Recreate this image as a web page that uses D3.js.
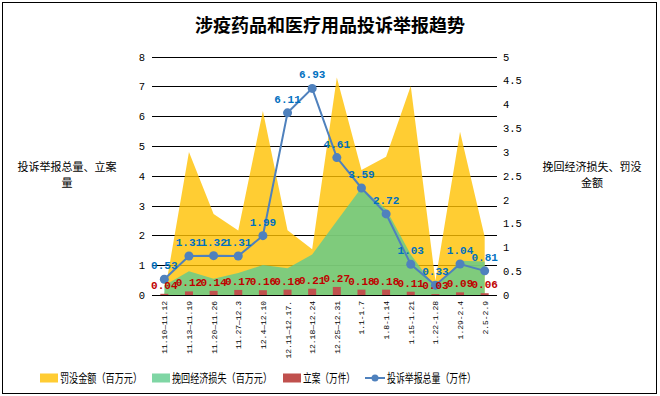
<!DOCTYPE html>
<html>
<head>
<meta charset="utf-8">
<script src="https://cdn.jsdelivr.net/npm/d3@7/dist/d3.min.js"></script>
<style>
  body { margin: 0; background: #fff; }
  svg { display: block; }
  .cjk { font-family: "Noto Sans CJK SC", sans-serif; }
  .num { font-family: "Liberation Mono", "DejaVu Sans Mono", monospace; }
</style>
</head>
<body>
<div id="chart"></div>
<script>
// 数据
const categories = ["11.10—11.12", "11.13—11.19", "11.20—11.26", "11.27—12.3", "12.4—12.10",
                    "12.11—12.17.", "12.18—12.24", "12.25—12.31", "1.1-1.7", "1.8-1.14",
                    "1.15-1.21", "1.22-1.28", "1.29-2.4", "2.5-2.9"];
const complaints = [0.53, 1.31, 1.32, 1.31, 1.99, 6.11, 6.93, 4.61, 3.59, 2.72, 1.03, 0.33, 1.04, 0.81]; // 投诉举报总量（万件）
const cases = [0.04, 0.12, 0.14, 0.17, 0.16, 0.18, 0.21, 0.27, 0.18, 0.18, 0.11, 0.03, 0.09, 0.06];       // 立案（万件）
const fines = [0, 3.0, 1.7, 1.35, 3.86, 1.36, 0.96, 4.56, 2.62, 2.9, 4.38, 0.3, 3.42, 1.22];             // 罚没金额（百万元）
const recovered = [0.2, 0.5, 0.34, 0.46, 0.63, 0.56, 0.85, 1.55, 2.25, 1.8, 0.85, 0.15, 0.72, 0.7];      // 挽回经济损失（百万元）
const leftTicks = [0, 1, 2, 3, 4, 5, 6, 7, 8];
const rightTicks = [0, 0.5, 1, 1.5, 2, 2.5, 3, 3.5, 4, 4.5, 5];

const W = 660, H = 396;
const plot = { left: 152, right: 497, top: 56.5, bottom: 295 };

const svg = d3.select("#chart").append("svg")
  .attr("width", W)
  .attr("height", H);

// 外框
svg.append("rect")
  .attr("x", 2.5).attr("y", 2.5)
  .attr("width", 654).attr("height", 391)
  .attr("fill", "#fff")
  .attr("stroke", "#000");

const x = d3.scaleBand().domain(categories).range([plot.left, plot.right]);
const cx = d => x(d) + x.bandwidth() / 2;
const yL = d3.scaleLinear().domain([0, 8]).range([plot.bottom, plot.top]);
const yR = d3.scaleLinear().domain([0, 5]).range([plot.bottom, plot.top]);

// 标题
svg.append("text")
  .attr("class", "cjk")
  .attr("x", 330).attr("y", 32)
  .attr("text-anchor", "middle")
  .style("font-size", "18px")
  .style("font-weight", "bold")
  .text("涉疫药品和医疗用品投诉举报趋势");

// 网格线
svg.append("g").selectAll("line")
  .data(leftTicks.filter(t => t > 0))
  .enter().append("line")
  .attr("x1", plot.left).attr("x2", plot.right)
  .attr("y1", d => Math.round(yL(d)) + 0.5)
  .attr("y2", d => Math.round(yL(d)) + 0.5)
  .attr("stroke", "#000");

// 面积：罚没金额、挽回经济损失
const area = d3.area()
  .x((d, i) => cx(categories[i]))
  .y0(yR(0))
  .y1(d => yR(d));

svg.append("path")
  .datum(fines)
  .attr("d", area)
  .attr("fill", "#FFC000")
  .attr("fill-opacity", 0.8);

svg.append("path")
  .datum(recovered)
  .attr("d", area)
  .attr("fill", "#5FCB8E")
  .attr("fill-opacity", 0.8);

// 立案柱
svg.append("g").selectAll("rect")
  .data(cases)
  .enter().append("rect")
  .attr("x", (d, i) => cx(categories[i]) - 4)
  .attr("y", d => yL(d))
  .attr("width", 8)
  .attr("height", d => yL(0) - yL(d))
  .attr("fill", "#C0504D");

// x轴线
svg.append("line")
  .attr("x1", plot.left).attr("x2", plot.right)
  .attr("y1", Math.round(plot.bottom) + 0.5).attr("y2", Math.round(plot.bottom) + 0.5)
  .attr("stroke", "#000");

// 投诉举报总量折线
const line = d3.line()
  .x((d, i) => cx(categories[i]))
  .y(d => yL(d));

svg.append("path")
  .datum(complaints)
  .attr("d", line)
  .attr("fill", "none")
  .attr("stroke", "#4F81BD")
  .attr("stroke-width", 2);

svg.append("g").selectAll("circle")
  .data(complaints)
  .enter().append("circle")
  .attr("cx", (d, i) => cx(categories[i]))
  .attr("cy", d => yL(d))
  .attr("r", 4.5)
  .attr("fill", "#4F81BD");

// 数据标签
svg.append("g").selectAll("text")
  .data(cases)
  .enter().append("text")
  .attr("class", "num")
  .attr("x", (d, i) => cx(categories[i]))
  .attr("y", d => yL(d) - 5)
  .attr("text-anchor", "middle")
  .style("font-size", "11px")
  .style("font-weight", "bold")
  .attr("fill", "#C00000")
  .text(d => d.toFixed(2));

svg.append("g").selectAll("text")
  .data(complaints)
  .enter().append("text")
  .attr("class", "num")
  .attr("x", (d, i) => cx(categories[i]))
  .attr("y", d => yL(d) - 10)
  .attr("text-anchor", "middle")
  .style("font-size", "11px")
  .style("font-weight", "bold")
  .attr("fill", "#0070C0")
  .text(d => d.toFixed(2));

// 左轴刻度
svg.append("g").selectAll("text")
  .data(leftTicks)
  .enter().append("text")
  .attr("class", "num")
  .attr("x", 145)
  .attr("y", d => yL(d) + 4)
  .attr("text-anchor", "end")
  .style("font-size", "10.5px")
  .text(d => d);

// 右轴刻度
svg.append("g").selectAll("text")
  .data(rightTicks)
  .enter().append("text")
  .attr("class", "num")
  .attr("x", 503)
  .attr("y", d => yR(d) + 4)
  .style("font-size", "10.5px")
  .text(d => d);

// x轴标签
svg.append("g").selectAll("text")
  .data(categories)
  .enter().append("text")
  .attr("class", "num")
  .attr("transform", d => `translate(${cx(d) + 3},301) rotate(-90)`)
  .attr("text-anchor", "end")
  .style("font-size", "8px")
  .text(d => d);

// 轴标题
const axisTitle = (lines, xPos) => {
  lines.forEach((t, i) => {
    svg.append("text")
      .attr("class", "cjk")
      .attr("x", xPos)
      .attr("y", 171 + i * 16)
      .attr("text-anchor", "middle")
      .style("font-size", "11px")
      .text(t);
  });
};
axisTitle(["投诉举报总量、立案", "量"], 67);
axisTitle(["挽回经济损失、罚没", "金额"], 592);

// 图例
const legendItems = [
  { name: "罚没金额（百万元）", color: "#FFCC33", type: "area", x: 40, w: 82 },
  { name: "挽回经济损失（百万元）", color: "#7FD6A4", type: "area", x: 152, w: 100 },
  { name: "立案（万件）", color: "#C0504D", type: "bar", x: 283, w: 52 },
  { name: "投诉举报总量（万件）", color: "#4F81BD", type: "line", x: 365, w: 89 }
];

const legend = svg.append("g").selectAll("g")
  .data(legendItems)
  .enter().append("g")
  .attr("transform", d => `translate(${d.x},378)`);

legend.filter(d => d.type !== "line").append("rect")
  .attr("x", 0).attr("y", -4.5)
  .attr("width", 18).attr("height", 9)
  .attr("fill", d => d.color);

const lg = legend.filter(d => d.type === "line");
lg.append("line")
  .attr("x1", 0).attr("x2", 20)
  .attr("stroke", d => d.color)
  .attr("stroke-width", 2);
lg.append("circle")
  .attr("cx", 10).attr("r", 3.5)
  .attr("fill", d => d.color);

legend.append("text")
  .attr("class", "cjk")
  .attr("x", d => d.type === "line" ? 22 : 20)
  .attr("y", 4.5)
  .attr("textLength", d => d.w)
  .attr("lengthAdjust", "spacingAndGlyphs")
  .style("font-size", "12px")
  .text(d => d.name);
</script>
</body>
</html>
